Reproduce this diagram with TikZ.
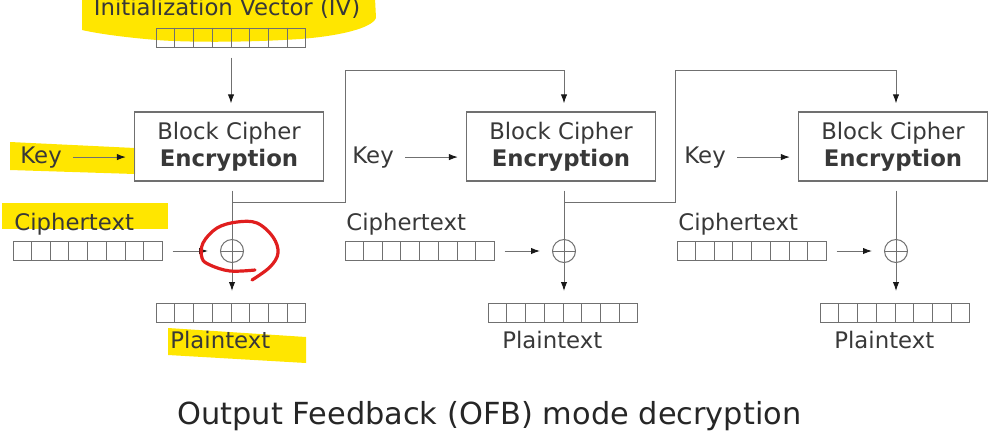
\documentclass[tikz,border=0pt]{standalone}
\usepackage{fontspec}
\setmainfont{DejaVu Sans}
\usetikzlibrary{arrows}
\usetikzlibrary{arrows.meta}
\usetikzlibrary{calc}

\definecolor{linegray}{HTML}{707070}
\definecolor{textgray}{HTML}{383838}
\definecolor{marker}{HTML}{FFE600}
\definecolor{pen}{HTML}{E01E1E}

\tikzset{
  lbl/.style={inner sep=0pt, anchor=base west, text=textgray, font=\fontsize{11.4}{13.5}\selectfont},
  cipherbox/.style={draw=linegray, line width=0.6pt, minimum width=94.5pt, minimum height=34.5pt, inner sep=0pt, align=center, text=textgray, font=\fontsize{11.4}{13.5}\selectfont},
  register/.style={draw=linegray, line width=0.5pt, minimum width=74.5pt, minimum height=9.5pt, inner sep=0pt},
  xor/.style={circle, draw=linegray, line width=0.5pt, minimum size=11.5pt, inner sep=0pt,
    path picture={\draw[linegray, line width=0.5pt] (path picture bounding box.north) -- (path picture bounding box.south)
      (path picture bounding box.west) -- (path picture bounding box.east);}},
  wire/.style={draw=linegray, line width=0.5pt},
  arr/.style={wire, -{Latex[length=4.5pt, width=3.2pt, color=black!90]}, shorten >=4pt},
}

\begin{document}
\begin{tikzpicture}[x=0.5pt, y=-0.5pt]

      \useasboundingbox (0,0) rectangle (1002,435);

      % highlighter marks
      \fill[marker] (82,-2) -- (375,-2) -- (376,18) .. controls (372,28) and (340,36) .. (300,39)
        .. controls (240,43) and (180,42) .. (157,40) .. controls (120,37) and (95,33) .. (82,30) -- cycle;
      \fill[marker] (10,142) -- (135,148) -- (135,174) -- (10,170) -- cycle;
      \fill[marker] (2,203) rectangle (168,229);
      \fill[marker] (168,328) -- (306,337) -- (306,363) -- (168,355) -- cycle;

      % first stage
      \node[lbl, anchor=base] (ivlabel) at (227,15) {Initialization Vector (IV)};
      \node[register] (iv) at (231,37.5) {};
      \node[cipherbox] (enc1) at (229,146.5) {Block Cipher\\\textbf{Encryption}};
      \node[lbl] (key1) at (20,163) {Key};
      \node[xor] (xor1) at (232,251) {};
      \node[lbl] (ctlabel1) at (14,230) {Ciphertext};
      \node[register] (ct1) at (87.5,251) {};
      \node[register] (pt1) at (231,313) {};
      \node[lbl] (ptlabel1) at (170,348) {Plaintext};

      % second stage
      \node[cipherbox] (enc2) at (561,146.5) {Block Cipher\\\textbf{Encryption}};
      \node[lbl] (key2) at (352,163) {Key};
      \node[xor] (xor2) at (564,251) {};
      \node[lbl] (ctlabel2) at (346,230) {Ciphertext};
      \node[register] (ct2) at (419.5,251) {};
      \node[register] (pt2) at (563,313) {};
      \node[lbl] (ptlabel2) at (502,348) {Plaintext};

      % third stage
      \node[cipherbox] (enc3) at (893,146.5) {Block Cipher\\\textbf{Encryption}};
      \node[lbl] (key3) at (684,163) {Key};
      \node[xor] (xor3) at (896,251) {};
      \node[lbl] (ctlabel3) at (678,230) {Ciphertext};
      \node[register] (ct3) at (751.5,251) {};
      \node[register] (pt3) at (895,313) {};
      \node[lbl] (ptlabel3) at (834,348) {Plaintext};

      \foreach \r in {iv,ct1,pt1,ct2,pt2,ct3,pt3}
        \foreach \i in {1,...,7}
          \draw[wire] ($(\r.north west)!\i/8!(\r.north east)$) -- ($(\r.south west)!\i/8!(\r.south east)$);

      \draw[arr, shorten <=5pt] (iv.south) -- (iv.south |- enc1.north);

      \draw[arr, shorten <=5.5pt] (key1.east) -- (key1.east -| enc1.west);
      \draw[arr, shorten <=5.5pt] (key2.east) -- (key2.east -| enc2.west);
      \draw[arr, shorten <=5.5pt] (key3.east) -- (key3.east -| enc3.west);

      \draw[wire, shorten <=4.5pt] (enc1.south -| xor1) -- (xor1.north);
      \draw[wire, shorten <=4.5pt] (enc2.south -| xor2) -- (xor2.north);
      \draw[wire, shorten <=4.5pt] (enc3.south -| xor3) -- (xor3.north);

      \draw[arr, shorten <=5pt, shorten >=6pt] (ct1.east) -- (xor1.west);
      \draw[arr, shorten <=5pt, shorten >=6pt] (ct2.east) -- (xor2.west);
      \draw[arr, shorten <=5pt, shorten >=6pt] (ct3.east) -- (xor3.west);

      \draw[arr, shorten >=6pt] (xor1.south) -- (pt1.north -| xor1);
      \draw[arr, shorten >=6pt] (xor2.south) -- (pt2.north -| xor2);
      \draw[arr, shorten >=6pt] (xor3.south) -- (pt3.north -| xor3);

      % feedback into the next stage
      \coordinate (fb1) at (232,202);
      \coordinate (fb2) at (564,202);
      \draw[arr] (fb1) -| (345,70) -| (enc2.north -| xor2);
      \draw[arr] (fb2) -| (675,70) -| (enc3.north -| xor3);

      \node[anchor=base, inner sep=0pt, text=black!85, font=\fontsize{15.2}{18}\selectfont] (caption) at (489.5,424)
        {Output Feedback (OFB) mode decryption};

      % pen mark round the first XOR
      \draw[pen, line width=1.6pt, line cap=round] plot[smooth, tension=0.6] coordinates
        {(255,270) (230,271) (210,265) (202,258) (203,243) (217,228) (237,222) (257,223) (273,237) (278,253) (270,267) (252,280)};
    \end{tikzpicture}
\end{document}
